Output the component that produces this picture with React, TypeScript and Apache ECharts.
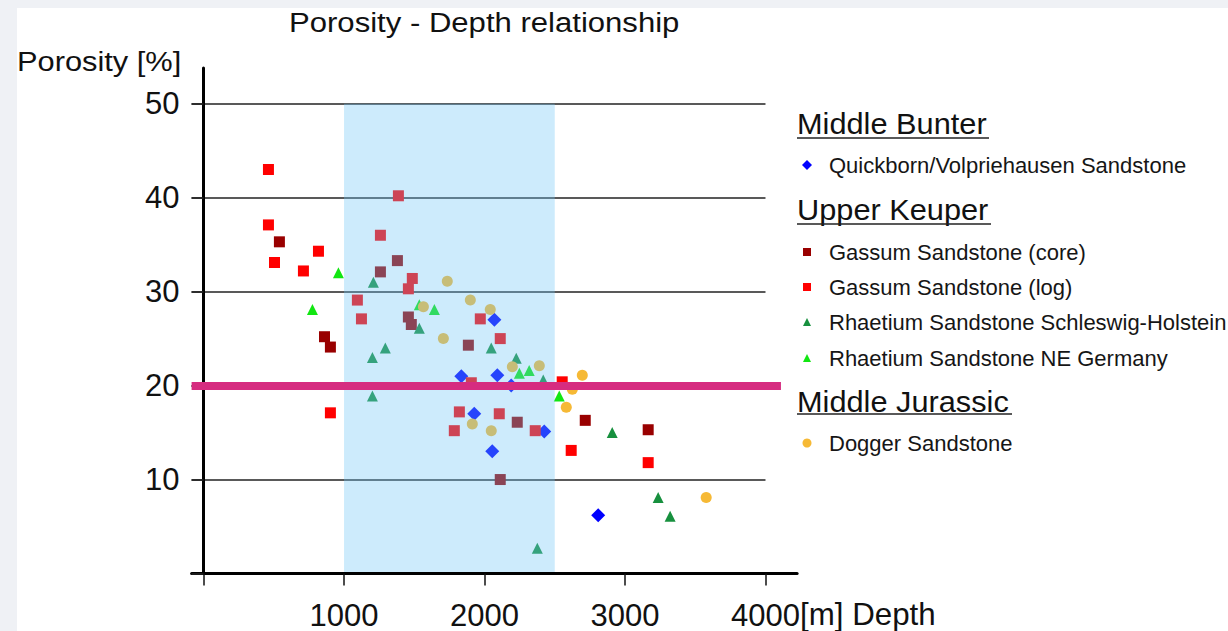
import React, { useEffect, useRef } from 'react';
import * as echarts from 'echarts';

const FONT = '"Liberation Sans", Arial, Helvetica, sans-serif';

// Axes
const X_MIN = -85;
const X_MAX = 4225;
const Y_MIN = 0;
const Y_MAX = 53.8;
const X_TICKS = [0, 1000, 2000, 3000, 4000];
const X_LABELS = [1000, 2000, 3000, 4000];
const Y_TICKS = [0, 10, 20, 30, 40, 50];
const Y_LABELS = [10, 20, 30, 40, 50];
const GRID_LINE_END = 4000;
const X_NAME = '[m] Depth';
const Y_NAME = 'Porosity [%]';
const TITLE = 'Porosity - Depth relationship';

// Highlighted depth window and porosity cut-off
const DEPTH_WINDOW = [1000, 2500];
const WINDOW_TOP = 50;
const POROSITY_CUTOFF = 20;
const CUTOFF_FROM = -85;
const CUTOFF_TO = 4110;

// Data: [depth m, porosity %]
const quickborn = [
  [2070, 27.0], [1835, 21.0], [2091, 21.1], [2190, 20.0], [1927, 17.0],
  [2425, 15.1], [2055, 13.0], [2809, 6.2],
];
const gassumCore = [
  [540, 35.3], [861, 25.2], [903, 24.1], [1259, 32.1], [1380, 33.3],
  [1458, 27.3], [1479, 26.5], [1885, 24.3], [2233, 16.1], [2112, 10.0],
  [2717, 16.3], [3165, 15.3],
];
const gassumLog = [
  [462, 43.0], [462, 37.1], [505, 33.1], [711, 32.2], [818, 34.3],
  [903, 17.1], [1095, 29.1], [1124, 27.1], [1259, 36.0], [1387, 40.2],
  [1458, 30.3], [1486, 31.4], [1785, 15.2], [1821, 17.2], [1906, 20.3],
  [1970, 27.1], [2105, 17.0], [2112, 25.0], [2361, 15.2], [2553, 20.4],
  [2617, 13.1], [3165, 11.8],
];
const rhaetSH = [
  [1209, 31.0], [1536, 26.1], [1294, 24.0], [1202, 23.0], [1202, 18.9],
  [2048, 24.0], [2226, 22.9], [2418, 20.6], [2376, 2.7], [2909, 15.0],
  [3236, 8.1], [3321, 6.1],
];
const rhaetNE = [
  [960, 32.0], [775, 28.1], [1536, 28.6], [1643, 28.1], [2248, 21.3],
  [2318, 21.6], [2532, 18.9],
];
const dogger = [
  [1735, 31.1], [1899, 29.1], [2041, 28.1], [1565, 28.4], [1707, 25.0],
  [2198, 22.0], [2390, 22.1], [1913, 15.9], [2048, 15.2], [2696, 21.1],
  [2625, 19.6], [2582, 17.7], [3578, 8.1],
];

const SERIES = [
  { name: 'Quickborn/Volpriehausen Sandstone', data: quickborn, symbol: 'diamond', size: 14, color: '#0000ff', legendTop: 152, legendSize: 10 },
  { name: 'Gassum Sandstone (core)', data: gassumCore, symbol: 'rect', size: 11, color: '#990000', legendTop: 239, legendSize: 8 },
  { name: 'Gassum Sandstone (log)', data: gassumLog, symbol: 'rect', size: 11, color: '#ff0000', legendTop: 274, legendSize: 8 },
  { name: 'Rhaetium Sandstone Schleswig-Holstein', data: rhaetSH, symbol: 'triangle', size: 11, color: '#17903e', legendTop: 309, legendSize: 8 },
  { name: 'Rhaetium Sandstone NE Germany', data: rhaetNE, symbol: 'triangle', size: 11, color: '#12e612', legendTop: 345, legendSize: 8 },
  { name: 'Dogger Sandstone', data: dogger, symbol: 'circle', size: 11, color: '#f6b935', legendTop: 430, legendSize: 9 },
];

const HEADINGS = [
  { text: 'Middle Bunter', y: 124, underlineY: 138, underlineW: 192 },
  { text: 'Upper Keuper', y: 210, underlineY: 224, underlineW: 194 },
  { text: 'Middle Jurassic', y: 402, underlineY: 414, underlineW: 215 },
];

export default function App() {
  const ref = useRef<HTMLDivElement>(null);

  useEffect(() => {
    document.body.style.margin = '0';
    if (!ref.current) return;
    const chart = echarts.init(ref.current, undefined, { renderer: 'svg' });

    const scatter = SERIES.map((s) => ({
      name: s.name,
      type: 'scatter',
      data: s.data,
      symbol: s.symbol,
      symbolSize: s.size,
      itemStyle: { color: s.color, opacity: 1 },
      z: 2,
      silent: true,
      emphasis: { disabled: true },
    }));

    const ICON_CX = 807;
    const TEXT_X = 829;
    const legends = SERIES.map((s) => ({
      data: [s.name],
      orient: 'vertical',
      left: ICON_CX - s.legendSize / 2,
      top: s.legendTop,
      padding: 0,
      itemWidth: s.legendSize,
      itemHeight: s.legendSize,
      selectedMode: false,
      textStyle: {
        fontSize: 22, color: '#161616', fontFamily: FONT, lineHeight: 26,
        padding: [0, 0, 0, TEXT_X - ICON_CX - s.legendSize / 2 - 5],
      },
    }));

    const graphic: any[] = [
      {
        type: 'rect', z: -10, silent: true,
        shape: { x: 17, y: 8, width: 1211, height: 623 },
        style: { fill: '#ffffff' },
      },
      {
        type: 'text', x: 289, y: 22, scaleX: 1.11,
        style: { text: TITLE, fontSize: 28, fontFamily: FONT, fill: '#111', align: 'left', verticalAlign: 'middle' },
      },
      {
        type: 'text', x: 17, y: 61, scaleX: 1.1,
        style: { text: Y_NAME, fontSize: 28, fontFamily: FONT, fill: '#111', align: 'left', verticalAlign: 'middle' },
      },
      {
        type: 'text', x: 800, y: 615, scaleX: 1.01,
        style: { text: X_NAME, fontSize: 31, fontFamily: FONT, fill: '#111', align: 'left', verticalAlign: 'middle' },
      },
    ];
    HEADINGS.forEach((h) => {
      graphic.push({
        type: 'text', x: 797, y: h.y, scaleX: 1.06,
        style: { text: h.text, fontSize: 29, fontFamily: FONT, fill: '#111', align: 'left', verticalAlign: 'middle' },
      });
      graphic.push({
        type: 'line',
        shape: { x1: 797, y1: h.underlineY, x2: 797 + h.underlineW, y2: h.underlineY },
        style: { stroke: '#222', lineWidth: 1.5 },
      });
    });

    const option: any = {
      animation: false,
      backgroundColor: '#eff1f5',
      textStyle: { fontFamily: FONT },
      grid: { left: 191.6, top: 68, width: 605.5, height: 505.5, containLabel: false, outerBoundsMode: 'none' },
      xAxis: {
        type: 'value',
        min: X_MIN,
        max: X_MAX,
        z: 4,
        axisLine: { onZero: true, lineStyle: { color: '#000', width: 3 } },
        axisTick: { show: true, customValues: X_TICKS, length: 12, lineStyle: { color: '#111', width: 1.5 } },
        axisLabel: { customValues: X_LABELS, margin: 26, fontSize: 31, color: '#111', fontFamily: FONT, formatter: (v: number) => String(v) },
        splitLine: { show: false },
      },
      yAxis: {
        type: 'value',
        min: Y_MIN,
        max: Y_MAX,
        z: 4,
        axisLine: { onZero: true, lineStyle: { color: '#000', width: 3 } },
        axisTick: { show: true, customValues: Y_TICKS, length: 12, lineStyle: { color: '#222', width: 1.6 } },
        axisLabel: { customValues: Y_LABELS, margin: 12, fontSize: 31, color: '#111', fontFamily: FONT, formatter: (v: number) => String(v) },
        splitLine: { show: false },
      },
      legend: legends,
      graphic,
      series: [
        {
          name: '_grid', type: 'line', data: [], silent: true,
          markLine: {
            z: 1, silent: true, symbol: ['none', 'none'], label: { show: false }, emphasis: { disabled: true },
            lineStyle: { color: '#222222', width: 1.7, type: 'solid' },
            data: Y_LABELS.map((v) => [{ coord: [X_MIN, v] }, { coord: [GRID_LINE_END, v] }]),
          },
        },
        ...scatter,
        {
          name: '_window', type: 'line', data: [], silent: true,
          markArea: {
            z: 3, silent: true, emphasis: { disabled: true },
            itemStyle: { color: 'rgba(110,197,246,0.345)', borderWidth: 0 },
            data: [[{ coord: [DEPTH_WINDOW[0], Y_MIN] }, { coord: [DEPTH_WINDOW[1], WINDOW_TOP] }]],
          },
        },
        {
          name: '_cutoff', type: 'line', data: [], silent: true,
          markLine: {
            z: 5, silent: true, symbol: ['none', 'none'], label: { show: false }, emphasis: { disabled: true },
            lineStyle: { color: '#d62c80', width: 8, type: 'solid' },
            data: [[{ coord: [CUTOFF_FROM, POROSITY_CUTOFF] }, { coord: [CUTOFF_TO, POROSITY_CUTOFF] }]],
          },
        },
      ],
    };

    chart.setOption(option);
    return () => chart.dispose();
  }, []);

  return <div ref={ref} style={{ width: 1228, height: 631 }} />;
}
